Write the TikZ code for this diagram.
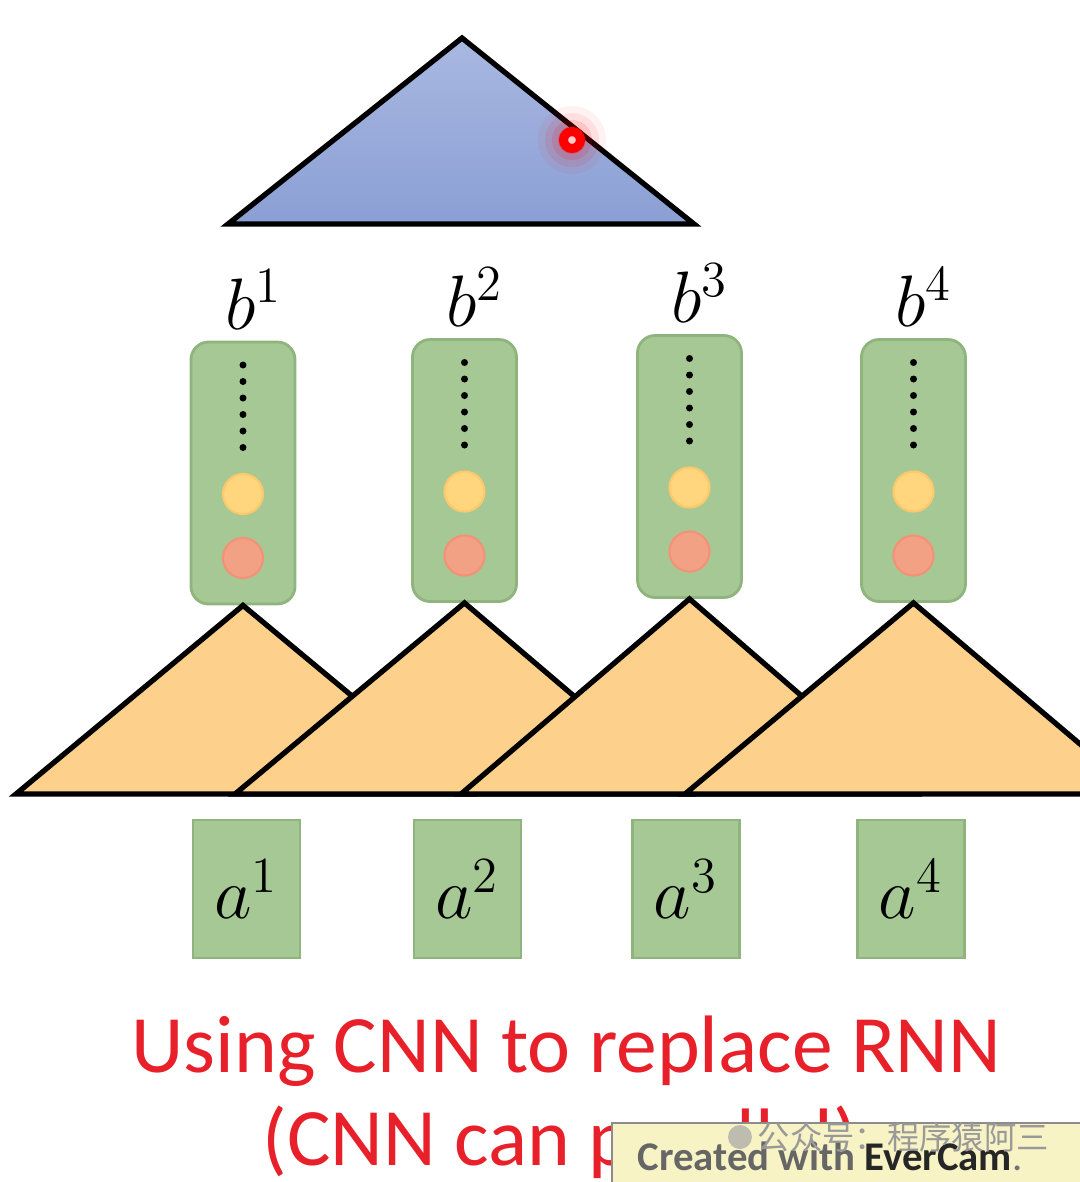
\documentclass[tikz,border=0pt]{standalone}
\usepackage{fontspec}
\setmainfont{Carlito}
\newfontfamily\cjkfont{Noto Sans CJK SC}
\usepackage{tikz}
\usetikzlibrary{positioning,shapes}
\usepackage{xcolor}

\definecolor{topblue}{HTML}{A9B8E2}
\definecolor{lowblue}{HTML}{8A9FD4}
\definecolor{convorange}{HTML}{FDD18C}
\definecolor{boxgreen}{HTML}{A6C894}
\definecolor{boxedge}{HTML}{8FB47D}
\definecolor{dotyellow}{HTML}{FFD57E}
\definecolor{dotred}{HTML}{F3A184}
\definecolor{slidered}{HTML}{E8202A}
\definecolor{camyellow}{HTML}{F7F3C4}

\begin{document}
\begin{tikzpicture}[line join=miter,
  hidbox/.style={draw=boxedge, fill=boxgreen, rounded corners=5pt, minimum width=1.04cm, minimum height=2.62cm, line width=0.8pt},
  inbox/.style={draw=boxedge, fill=boxgreen, minimum width=1.07cm, minimum height=1.38cm, line width=0.8pt, font=\fontsize{20.74}{24}\selectfont},
  blab/.style={font=\fontsize{20.74}{24}\selectfont, inner sep=1pt},
  conv/.style={draw=black, fill=convorange, line width=1.5pt},
  unit/.style={circle, minimum size=0.4cm, inner sep=0pt, line width=0.6pt}]
  \useasboundingbox (0,0) rectangle (10.8,-11.82);
  \clip (0,0) rectangle (10.8,-11.82);

  % top layer
  \draw[line width=1.5pt, top color=topblue, bottom color=lowblue] (4.62,-0.38) -- (2.28,-2.24) -- (6.94,-2.24) -- cycle;
  \foreach \r/\o in {0.34/0.05, 0.27/0.08, 0.2/0.12, 0.14/0.15}
    \fill[red, opacity=\o] (5.72,-1.40) circle (\r);
  \draw[red, line width=2.6pt, fill=red!20] (5.72,-1.40) circle (0.085);

  % hidden vectors b
  \foreach \i/\x/\y in {1/2.43/4.73, 2/4.645/4.705, 3/6.895/4.665, 4/9.135/4.705} {
    \node[hidbox] (h\i) at (\x,-\y) {};
    \node[blab, above=2pt of h\i, xshift=3pt] (b\i) {$b^\i$};
    \foreach \k in {0,...,5}
      \fill (\x,-\y+1.08-\k*0.165) circle (0.035);
    \node[unit, draw=dotyellow!85!orange, fill=dotyellow] (y\i) at (\x,-\y-0.21) {};
    \node[unit, draw=dotred!90!red, fill=dotred] (r\i) at (\x,-\y-0.85) {};
  }

  % convolution filters
  \foreach \i/\x in {1/2.43, 2/4.62, 3/6.88, 4/9.12}
    \filldraw[conv] (h\i.south) -- (\x-2.27,-7.94) -- (\x+2.27,-7.94) -- cycle;

  % inputs a
  \foreach \i/\x in {1/2.465, 2/4.675, 3/6.86, 4/9.11}
    \node[inbox] (a\i) at (\x,-8.89) {$a^\i$};

  % caption
  \node[text=slidered, font=\fontsize{23.2}{27}\selectfont, anchor=base] (cap1) at (5.66,-10.72) {Using CNN to replace RNN};
  \node[text=slidered, font=\fontsize{23.2}{27}\selectfont, anchor=base west, inner sep=0pt] (cap2) at (2.62,-11.65) {(CNN can parallel)};

  % recorder stamp
  \filldraw[draw=black!45, fill=camyellow, line width=0.6pt] (6.12,-11.23) rectangle (10.9,-11.9);
  \node[anchor=base west, inner sep=0pt, font=\fontsize{11.6}{14}\selectfont] (cam) at (6.37,-11.70)
    {\textcolor{black!60}{\bfseries Created with} \textcolor{black!85}{\bfseries EverCam}\textcolor{black!55}{.}};
  \fill[black!35, opacity=0.7] (7.40,-11.37) circle (0.12);
  \node[anchor=west, inner sep=0pt, text=black!40, font=\cjkfont\fontsize{9.2}{11}\selectfont] (wm) at (7.57,-11.37) {公众号：程序猿阿三};
\end{tikzpicture}
\end{document}
